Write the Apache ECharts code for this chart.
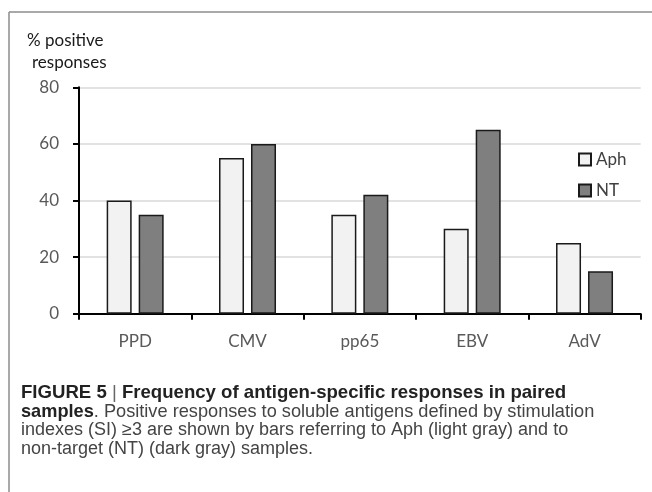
<!DOCTYPE html>
<html>
<head>
<meta charset="utf-8">
<script src="https://cdn.jsdelivr.net/npm/echarts@6/dist/echarts.min.js"></script>
<style>html,body{margin:0;padding:0;background:#fff;}#c{width:652px;height:492px;}</style>
</head>
<body>
<div id="c"></div>
<script>
var categories = ['PPD', 'CMV', 'pp65', 'EBV', 'AdV'];
var aphValues = [40, 55, 35, 30, 25];
var ntValues = [35, 60, 42, 65, 15];
var yTicks = [0, 20, 40, 60, 80];

var chart = echarts.init(document.getElementById('c'), null, {renderer: 'canvas'});
var axisFont = 'Lato';
chart.setOption({
  animation: false,
  backgroundColor: '#fff',
  grid: {left: 79, right: 11.3, top: 87.3, bottom: 178.3, containLabel: false},
  legend: {
    orient: 'vertical',
    left: 578, top: 151, padding: 0,
    itemWidth: 12, itemHeight: 12, itemGap: 14,
    icon: 'rect',
    textStyle: {fontFamily: axisFont, fontSize: 17, color: '#404040', lineHeight: 14},
    data: ['Aph', 'NT']
  },
  xAxis: {
    type: 'category',
    data: categories,
    axisLine: {lineStyle: {color: '#000', width: 2}},
    axisTick: {show: true, length: 6, lineStyle: {color: '#000', width: 2}},
    axisLabel: {fontFamily: axisFont, fontSize: 17, color: '#595959', margin: 19}
  },
  yAxis: {
    type: 'value',
    min: yTicks[0], max: yTicks[yTicks.length - 1], interval: yTicks[1] - yTicks[0],
    axisLine: {show: true, lineStyle: {color: '#000', width: 2}},
    axisTick: {show: true, length: 6, lineStyle: {color: '#000', width: 2}},
    axisLabel: {fontFamily: axisFont, fontSize: 17, color: '#595959', margin: 20},
    splitLine: {lineStyle: {color: '#d9d9d9', width: 1.5}}
  },
  series: [
    {name: 'Aph', type: 'bar', data: aphValues, barWidth: 25, barGap: '28%',
     itemStyle: {color: '#f2f2f2', borderColor: '#1a1a1a', borderWidth: 1.5}},
    {name: 'NT', type: 'bar', data: ntValues, barWidth: 25, barGap: '28%',
     itemStyle: {color: '#7f7f7f', borderColor: '#1a1a1a', borderWidth: 1.5}}
  ],
  graphic: [
    {type: 'line', shape: {x1: 9, y1: 12, x2: 652, y2: 12}, style: {stroke: '#8c8c8c', lineWidth: 1.5}},
    {type: 'line', shape: {x1: 9, y1: 12, x2: 9, y2: 492}, style: {stroke: '#8c8c8c', lineWidth: 1.5}},
    {type: 'text', x: 27, y: 41, style: {text: '% positive', font: '17px Lato', fill: '#1a1a1a', verticalAlign: 'middle'}},
    {type: 'text', x: 32, y: 63, style: {text: 'responses', font: '17px Lato', fill: '#1a1a1a', verticalAlign: 'middle'}},
    {type: 'text', x: 21, y: 393, style: {
      text: '{b|FIGURE 5 }{l||}{b| Frequency of antigen-specific responses in paired}',
      verticalAlign: 'middle',
      rich: {
        b: {fontFamily: 'Liberation Sans', fontWeight: 'bold', fontSize: 18.6, fill: '#222'},
        l: {fontFamily: 'Liberation Sans', fontSize: 18.6, fill: '#666'}
      }}},
    {type: 'text', x: 21, y: 412, style: {
      text: '{b|samples}{n|. Positive responses to soluble antigens defined by stimulation}',
      verticalAlign: 'middle',
      rich: {
        b: {fontFamily: 'Liberation Sans', fontWeight: 'bold', fontSize: 18.2, fill: '#222'},
        n: {fontFamily: 'Liberation Sans', fontSize: 18.2, fill: '#444'}
      }}},
    {type: 'text', x: 21, y: 430.5, style: {text: 'indexes (SI) \u22653 are shown by bars referring to Aph (light gray) and to', font: '18px "Liberation Sans"', fill: '#444', verticalAlign: 'middle'}},
    {type: 'text', x: 21, y: 449, style: {text: 'non-target (NT) (dark gray) samples.', font: '18px "Liberation Sans"', fill: '#444', verticalAlign: 'middle'}}
  ]
});
</script>
</body>
</html>
